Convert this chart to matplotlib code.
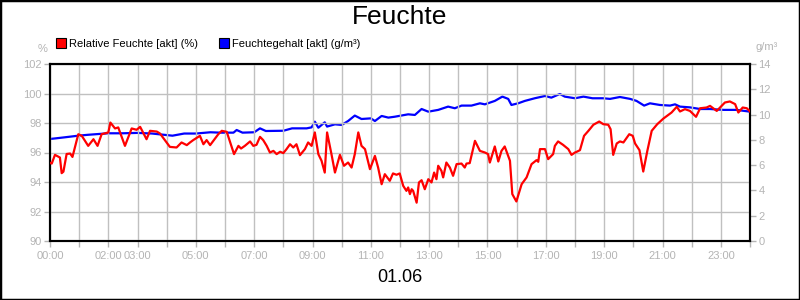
import matplotlib
matplotlib.use("Agg")
import matplotlib.pyplot as plt
from matplotlib.patches import Rectangle
from matplotlib.lines import Line2D

plt.rcParams['font.family'] = ['Liberation Sans', 'DejaVu Sans']

# ---- data ----
title = "Feuchte"
date_label = "01.06"
left_unit = "%"
right_unit = "g/m\u00b3"
rh_label = "Relative Feuchte [akt] (%)"
ah_label = "Feuchtegehalt [akt] (g/m\u00b3)"

rh_hours = [0.0, 0.06, 0.17, 0.34, 0.4, 0.46, 0.57, 0.69, 0.77, 0.97, 1.09, 1.31, 1.49, 1.63, 1.77,
            2.0, 2.07, 2.23, 2.34, 2.57, 2.8, 2.97, 3.09, 3.31, 3.43, 3.66, 3.77, 4.11, 4.34,
            4.51, 4.69, 4.8, 4.91, 5.14, 5.26, 5.37, 5.49, 5.77, 5.89, 6.06, 6.31, 6.46, 6.55,
            6.68, 6.86, 6.97, 7.08, 7.2, 7.31, 7.43, 7.54, 7.66, 7.77, 7.89, 8.0, 8.11, 8.23,
            8.34, 8.45, 8.57, 8.74, 8.85, 8.97, 9.08, 9.2, 9.31, 9.42, 9.5, 9.65, 9.77, 9.94,
            10.08, 10.22, 10.34, 10.45, 10.57, 10.68, 10.8, 10.97, 11.14, 11.25, 11.37, 11.48,
            11.65, 11.76, 11.88, 11.99, 12.11, 12.22, 12.28, 12.34, 12.4, 12.45, 12.57, 12.65,
            12.74, 12.85, 12.97, 13.08, 13.17, 13.25, 13.31, 13.42, 13.48, 13.59, 13.71, 13.82,
            13.94, 14.11, 14.22, 14.28, 14.39, 14.57, 14.74, 14.91, 15.02, 15.08, 15.25, 15.37,
            15.48, 15.59, 15.77, 15.85, 15.99, 16.17, 16.34, 16.51, 16.68, 16.74, 16.8, 16.97,
            17.08, 17.25, 17.31, 17.42, 17.59, 17.77, 17.88, 18.0, 18.06, 18.17, 18.31, 18.46,
            18.63, 18.83, 18.97, 19.14, 19.22, 19.31, 19.43, 19.54, 19.66, 19.86, 19.98, 20.06,
            20.21, 20.34, 20.48, 20.63, 20.82, 21.03, 21.2, 21.31, 21.49, 21.6, 21.77, 21.94,
            22.15, 22.29, 22.51, 22.63, 22.86, 23.14, 23.31, 23.49, 23.6, 23.75, 23.89, 24.0]
rh_values = [95.3, 95.25, 95.84, 95.66, 94.6, 94.7, 95.9, 95.93, 95.7, 97.24, 97.13, 96.45, 96.9, 96.45, 97.24,
             97.36, 98.03, 97.63, 97.7, 96.45, 97.63, 97.54, 97.74, 96.9, 97.47, 97.42, 97.29, 96.38, 96.34,
             96.68, 96.5, 96.68, 96.84, 97.13, 96.56, 96.84, 96.5, 97.24, 97.47, 97.4, 95.89, 96.45, 96.27,
             96.45, 96.75, 96.45, 96.52, 97.06, 96.84, 96.45, 96.0, 96.11, 95.89, 96.05, 95.96, 96.23, 96.56,
             96.34, 96.56, 95.82, 96.23, 96.68, 96.45, 97.36, 95.89, 95.44, 94.64, 97.36, 95.89, 94.64, 95.84,
             95.1, 95.32, 94.98, 95.89, 97.36, 96.45, 96.23, 94.87, 95.77, 94.98, 93.85, 94.53,
             94.08, 94.58, 94.49, 94.58, 93.74, 93.4, 93.63, 93.18, 93.51, 93.4, 92.6, 93.97,
             94.12, 93.51, 94.19, 93.97, 94.64, 94.19, 95.1, 94.76, 94.31, 95.32, 94.98, 94.42,
             95.21, 95.25, 94.98, 95.25, 95.28, 96.79, 96.11, 96.0, 95.89, 95.32, 96.41, 95.39,
             96.11, 96.41, 95.44, 93.18, 92.68, 93.85, 94.31, 95.21, 95.48, 95.37, 96.23, 96.23,
             95.55, 95.89, 96.45, 96.75, 96.52, 96.23, 95.84, 96.0, 96.05, 96.16, 97.13, 97.47,
             97.88, 98.1, 97.92, 97.88, 97.58, 95.84, 96.61, 96.75, 96.68, 97.24, 97.13, 96.61,
             96.16, 94.71, 96.11, 97.47, 97.92, 98.3, 98.55, 98.71, 99.1, 98.78, 98.94, 98.82,
             98.42, 99.0, 99.05, 99.16, 98.82, 99.39, 99.46, 99.28, 98.71, 99.05, 99.0, 98.78]

ah_hours = [0.0, 0.2, 0.5, 0.97, 1.3, 2.0, 2.5, 3.0, 3.5, 4.2, 4.6, 5.0, 5.5, 5.83, 6.29, 6.4, 6.6,
            7.0, 7.2, 7.4, 8.0, 8.3, 8.8, 8.97, 9.08, 9.2, 9.42, 9.5, 9.77, 10.0, 10.22,
            10.45, 10.68, 11.0, 11.14, 11.37, 11.6, 11.82, 12.28, 12.51, 12.74, 12.97, 13.31,
            13.65, 13.88, 14.11, 14.45, 14.74, 14.91, 15.25, 15.51, 15.71, 15.82, 16.05, 16.28,
            16.62, 16.97, 17.19, 17.48, 17.65, 18.0, 18.29, 18.6, 18.97, 19.2, 19.54, 19.89,
            20.11, 20.37, 20.57, 20.91, 21.26, 21.43, 21.6, 21.94, 22.29, 22.63, 23.09, 23.54, 24.0]
ah_values = [8.07, 8.12, 8.2, 8.33, 8.4, 8.52, 8.52, 8.55, 8.5, 8.33, 8.5, 8.5, 8.6, 8.57, 8.57, 8.78, 8.57,
             8.6, 8.91, 8.7, 8.72, 8.91, 8.91, 8.99, 9.44, 8.96, 9.39, 9.05, 9.23, 9.18, 9.49,
             9.92, 9.65, 9.7, 9.49, 9.89, 9.76, 9.83, 10.02, 9.97, 10.44, 10.23, 10.37,
             10.63, 10.5, 10.71, 10.71, 10.89, 10.81, 11.08, 11.42, 11.24, 10.76, 10.89, 11.08,
             11.29, 11.47, 11.34, 11.63, 11.42, 11.29, 11.42, 11.29, 11.29, 11.24, 11.39, 11.24,
             11.08, 10.71, 10.89, 10.76, 10.71, 10.81, 10.63, 10.57, 10.44, 10.44, 10.37, 10.37, 10.23]

x_tick_hours = list(range(25))
x_label_hours = [0, 2, 3, 5, 7, 9, 11, 13, 15, 17, 19, 21, 23]
left_ticks = [90, 92, 94, 96, 98, 100, 102]
right_ticks = [0, 2, 4, 6, 8, 10, 12, 14]

# ---- drawing ----
GRAY = '#b4b4b4'
fig = plt.figure(figsize=(8, 3), dpi=100)
ax = fig.add_axes([50 / 800, 59 / 300, 700 / 800, 177 / 300])
ax2 = ax.twinx()

ax.plot(rh_hours, rh_values, color='#ff0000', lw=1.6, zorder=3)
ax2.plot(ah_hours, ah_values, color='#0000ff', lw=1.6, zorder=3)

ax.set_xlim(0, 24)
ax.set_ylim(90, 102)
ax2.set_ylim(0, 14)
ax.set_xticks(x_tick_hours)
ax.set_xticklabels(['%02d:00' % h if h in x_label_hours else '' for h in x_tick_hours])
ax.set_yticks(left_ticks)
ax.set_yticklabels([str(v) for v in left_ticks])
ax2.set_yticks(right_ticks)
ax2.set_yticklabels([str(v) for v in right_ticks])
ax.grid(True, color='#c0c0c0', lw=1.0)
ax.set_axisbelow(True)
ax.set_zorder(ax2.get_zorder() + 1)
ax.patch.set_visible(False)

for a in (ax, ax2):
    for s in a.spines.values():
        s.set_color('black')
        s.set_linewidth(1.5)
    a.tick_params(colors=GRAY, labelsize=8, length=4, width=1, pad=2)
ax.tick_params(axis='x', pad=3)

fig.text(400 / 800, 1 - 17 / 300, title, ha='center', va='center', fontsize=19, color='black')
fig.text(400 / 800, 1 - 277 / 300, date_label, ha='center', va='center', fontsize=13, color='black')
fig.text(43 / 800, 1 - 49 / 300, left_unit, ha='center', va='center', fontsize=8, color=GRAY)
fig.text(767 / 800, 1 - 47 / 300, right_unit, ha='center', va='center', fontsize=8, color=GRAY)

handles = [Line2D([], [], ls='none', marker='s', markersize=7, markerfacecolor='#ff0000', markeredgecolor='black', markeredgewidth=0.8),
           Line2D([], [], ls='none', marker='s', markersize=7, markerfacecolor='#0000ff', markeredgecolor='black', markeredgewidth=0.8)]
fig.legend(handles, [rh_label, ah_label], loc='center left', bbox_to_anchor=(57 / 800, 1 - 44 / 300),
           ncol=2, frameon=False, fontsize=8, handlelength=0.8, handletextpad=0.3, columnspacing=1.9,
           borderpad=0, borderaxespad=0)

fig.add_artist(Rectangle((0, 0), 1, 1, transform=fig.transFigure, fill=False, edgecolor='black', lw=2.5))

fig.savefig('out.png', dpi=100)
